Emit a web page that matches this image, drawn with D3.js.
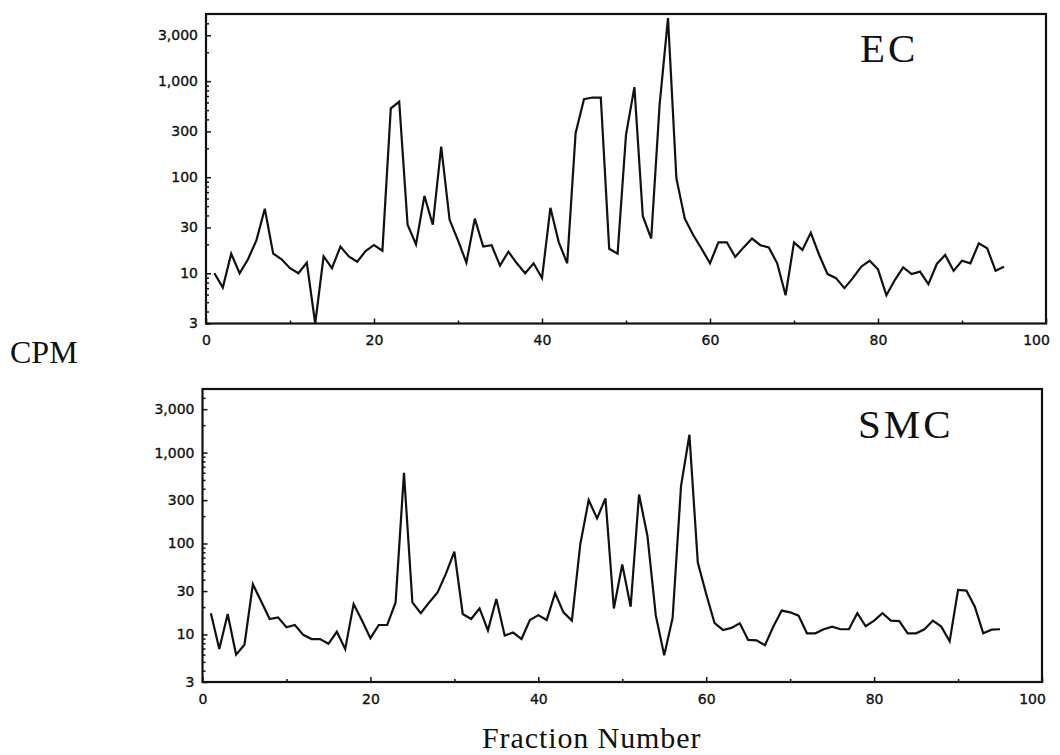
<!DOCTYPE html>
<html>
<head>
<meta charset="utf-8">
<script src="https://cdn.jsdelivr.net/npm/d3@7"></script>
<style>
  html, body { margin: 0; padding: 0; background: #fff; }
  svg { display: block; }
  .tick text { font-family: "DejaVu Sans", sans-serif; font-size: 14px; fill: #111; stroke: #111; stroke-width: 0.35px; }
  .tick line { stroke: #111; stroke-width: 1.5px; }
</style>
</head>
<body>
<svg id="chart" width="1060" height="755"></svg>
<script>
// Fraction numbers collected from the gradient
const fractions = d3.range(1, 96);

// Counts per minute, EC extract
const ecCounts = [
  10, 7.1, 16, 10, 14, 22, 47, 16, 14, 11.3,
  10, 12.9, 3, 15, 11.3, 19, 15, 13.2, 17, 19.7,
  17.2, 520, 610, 32, 20, 64, 32, 208, 36, 22,
  12.9, 37, 19, 19.6, 12, 16.8, 12.7, 10, 12.7, 8.9,
  48, 21, 12.7, 287, 650, 675, 675, 18, 16, 276,
  866, 39.5, 23, 566, 4530, 97, 37, 25, 18, 12.7,
  21, 21, 14.8, 18.6, 23, 19.6, 18.6, 12.7, 5.9, 21,
  17.5, 26.4, 15.5, 9.8, 8.9, 7, 8.9, 11.7, 13.5, 11,
  5.9, 8.5, 11.5, 9.8, 10.4, 7.7, 12.5, 15.5, 10.6, 13.5,
  12.7, 20.5, 18.2, 10.6, 11.7
];

// Counts per minute, SMC extract
const smcCounts = [
  17.1, 6.9, 16.8, 6.0, 7.7, 35.6, 23, 14.8, 15.4, 12,
  12.7, 9.9, 8.9, 8.9, 7.9, 10.7, 6.9, 21.6, 14.2, 9.1,
  12.7, 12.7, 22.5, 599, 22.5, 17.1, 22.5, 28.9, 46.7, 81.4,
  16.8, 14.8, 19.3, 11.1, 24.5, 9.7, 10.5, 8.9, 14.4, 16.3,
  14.4, 28.5, 17.5, 14.2, 98, 300, 189, 313, 19.3, 59,
  20.2, 346, 121, 16.1, 5.9, 15.2, 427, 1571, 61.6, 27.8,
  13.3, 11.2, 11.8, 13.3, 8.7, 8.6, 7.6, 12.2, 18.3, 17.5,
  16.1, 10.3, 10.3, 11.4, 12.2, 11.4, 11.4, 17.1, 12.3, 14.2,
  17.1, 14.2, 14.0, 10.3, 10.3, 11.4, 14.2, 12.2, 8.4, 30.8,
  30.3, 20.2, 10.3, 11.3, 11.4
];

// Axis ticks and labels
const xTicks = [0, 20, 40, 60, 80, 100];
const xMinorTicks = [10, 30, 50, 70, 90];
const yTicks = [3, 10, 30, 100, 300, 1000, 3000];
const yTickLabels = ["3", "10", "30", "100", "300", "1,000", "3,000"];
const yMinorTicks = [4, 5, 6, 7, 8, 9, 20, 40, 50, 60, 70, 80, 90,
                     200, 400, 500, 600, 700, 800, 900, 2000, 4000];

const panelNames = ["EC", "SMC"];
const yAxisTitle = "CPM";
const xAxisTitle = "Fraction Number";

const svg = d3.select("#chart");

const panels = [
  { name: panelNames[0], counts: ecCounts,  x0: 206,   x1: 1046, y0: 14,  y1: 323.5, lx: 860, ly: 62 },
  { name: panelNames[1], counts: smcCounts, x0: 202.5, x1: 1042, y0: 389, y1: 682,   lx: 858, ly: 438 }
];

panels.forEach(p => {
  const x = d3.scaleLinear().domain([0, 100]).range([p.x0, p.x1]);
  const y = d3.scaleLog().domain([3, 5000]).range([p.y1, p.y0]);
  const g = svg.append("g");

  // minor ticks, pointing into the plot
  g.append("g")
    .attr("transform", `translate(0,${p.y1})`)
    .call(d3.axisBottom(x).tickValues(xMinorTicks).tickSize(-3).tickFormat(""));
  g.append("g")
    .attr("transform", `translate(${p.x0},0)`)
    .call(d3.axisLeft(y).tickValues(yMinorTicks).tickSize(-3).tickFormat(""));

  // major ticks with labels
  const xa = g.append("g")
    .attr("transform", `translate(0,${p.y1})`)
    .call(d3.axisBottom(x).tickValues(xTicks).tickSize(-5).tickPadding(12).tickFormat(d => String(d)));
  xa.selectAll(".tick text").filter(d => d === 100).attr("dx", -10);

  g.append("g")
    .attr("transform", `translate(${p.x0},0)`)
    .call(d3.axisLeft(y).tickValues(yTicks).tickSize(-5).tickPadding(8)
      .tickFormat(d => yTickLabels[yTicks.indexOf(d)]));

  g.selectAll(".domain").remove();

  // plot frame
  g.append("rect")
    .attr("x", p.x0).attr("y", p.y0)
    .attr("width", p.x1 - p.x0).attr("height", p.y1 - p.y0)
    .attr("fill", "none").attr("stroke", "#111").attr("stroke-width", 2.2);

  // counts trace
  const line = d3.line()
    .x((d, i) => x(fractions[i]))
    .y(d => y(d));
  g.append("path")
    .datum(p.counts)
    .attr("d", line)
    .attr("fill", "none")
    .attr("stroke", "#111")
    .attr("stroke-width", 2.2)
    .attr("stroke-linejoin", "miter");

  // panel name
  g.append("text")
    .attr("x", p.lx).attr("y", p.ly)
    .attr("font-family", "'Liberation Serif', 'Times New Roman', serif")
    .attr("font-size", 41)
    .attr("letter-spacing", 3)
    .attr("fill", "#111")
    .text(p.name);
});

// shared axis titles
svg.append("text")
  .attr("x", 10).attr("y", 363)
  .attr("font-family", "'Liberation Serif', 'Times New Roman', serif")
  .attr("font-size", 32)
  .attr("fill", "#111")
  .text(yAxisTitle);

svg.append("text")
  .attr("x", 482).attr("y", 748)
  .attr("font-family", "'Liberation Serif', 'Times New Roman', serif")
  .attr("font-size", 30)
  .attr("letter-spacing", 0.9)
  .attr("fill", "#111")
  .text(xAxisTitle);
</script>
</body>
</html>
